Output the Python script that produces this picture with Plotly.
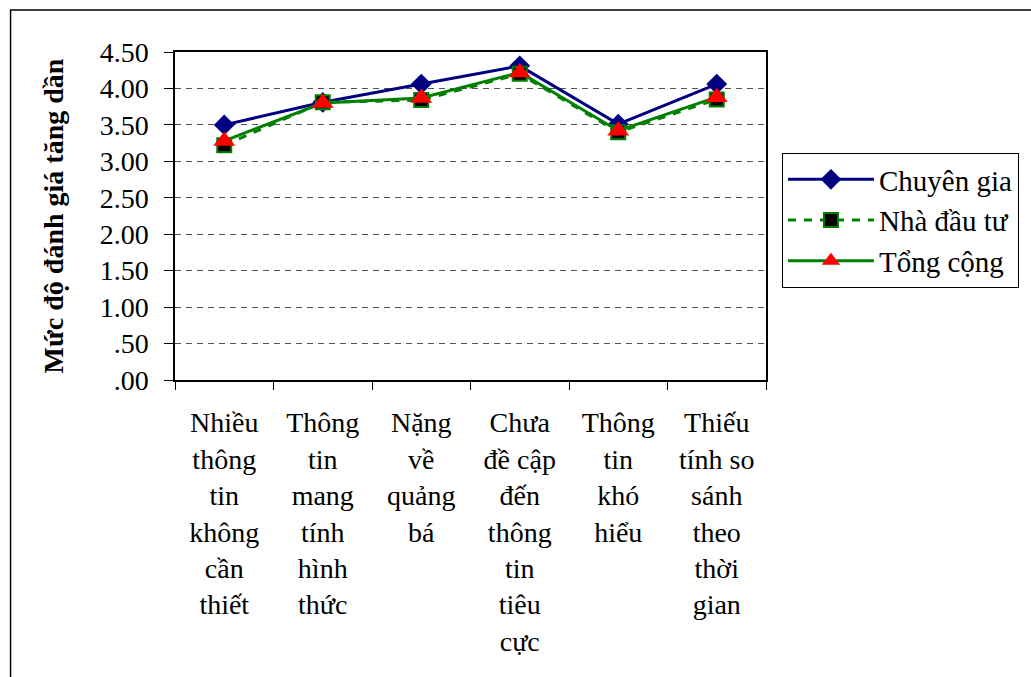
import plotly.graph_objects as go

categories = [
    "Nhiều<br>thông<br>tin<br>không<br>cần<br>thiết",
    "Thông<br>tin<br>mang<br>tính<br>hình<br>thức",
    "Nặng<br>về<br>quảng<br>bá",
    "Chưa<br>đề cập<br>đến<br>thông<br>tin<br>tiêu<br>cực",
    "Thông<br>tin<br>khó<br>hiểu",
    "Thiếu<br>tính so<br>sánh<br>theo<br>thời<br>gian",
]
chuyen_gia = [3.50, 3.81, 4.06, 4.31, 3.51, 4.06]
nha_dau_tu = [3.22, 3.81, 3.84, 4.20, 3.40, 3.85]
tong_cong = [3.28, 3.80, 3.87, 4.22, 3.42, 3.88]

y_tickvals = [0, 0.5, 1, 1.5, 2, 2.5, 3, 3.5, 4, 4.5]
y_ticktext = [".00", ".50", "1.00", "1.50", "2.00", "2.50", "3.00", "3.50", "4.00", "4.50"]

FONT = "Liberation Serif"

fig = go.Figure()
fig.add_trace(go.Scatter(
    x=categories, y=chuyen_gia, name="Chuyên gia", mode="lines+markers",
    line=dict(color="#000080", width=3),
    marker=dict(symbol="diamond", size=16, color="#000080"),
))
fig.add_trace(go.Scatter(
    x=categories, y=nha_dau_tu, name="Nhà đầu tư", mode="lines+markers",
    line=dict(color="#008000", width=3, dash="8px,8px"),
    marker=dict(symbol="square", size=14, color="black", line=dict(color="#008000", width=2)),
))
fig.add_trace(go.Scatter(
    x=categories, y=tong_cong, name="Tổng cộng", mode="lines+markers",
    line=dict(color="#008000", width=3),
    marker=dict(symbol="triangle-up", size=19, color="#ff0000"),
))

W, H = 1031, 677
L, R, T, B = 175, 768, 52, 380
pw, ph = R - L, B - T

def px(x):
    return (x - L) / pw

def py(y):
    return (B - y) / ph

fig.update_layout(
    width=W, height=H,
    margin=dict(l=L, r=W - R, t=T, b=H - B, pad=0),
    paper_bgcolor="white", plot_bgcolor="white",
    font=dict(family=FONT, size=28, color="black"),
    showlegend=True,
    legend=dict(
        x=px(784), y=py(153), xanchor="left", yanchor="top",
        bordercolor="black", borderwidth=1, bgcolor="white",
        font=dict(family=FONT, size=29), tracegroupgap=0,
        itemwidth=86,
    ),
    xaxis=dict(
        showgrid=False, showline=True, linecolor="black", linewidth=1.5,
        mirror=True, ticks="outside", ticklen=8, tickcolor="black",
        tickson="boundaries", tickfont=dict(family=FONT, size=28),
        ticklabelstandoff=17,
        range=[-0.5, 5.5],
    ),
    yaxis=dict(
        range=[0, 4.5], tickvals=y_tickvals, ticktext=y_ticktext,
        showgrid=True, gridcolor="#555555", gridwidth=1, griddash="6px,5px",
        showline=True, linecolor="black", linewidth=1.5, mirror=True,
        ticks="outside", ticklen=9, tickcolor="black",
        tickfont=dict(family=FONT, size=28),
        ticklabelstandoff=10,
        title=dict(text="<b>Mức độ đánh giá tăng dần</b>",
                   font=dict(family=FONT, size=28), standoff=28),
        zeroline=False,
    ),
    shapes=[dict(
        type="rect", xref="paper", yref="paper",
        x0=px(10), y0=py(700), x1=px(1060), y1=py(10),
        line=dict(color="black", width=1.5), fillcolor="rgba(0,0,0,0)",
        layer="below",
    )],
)

fig.write_html("out.html")
